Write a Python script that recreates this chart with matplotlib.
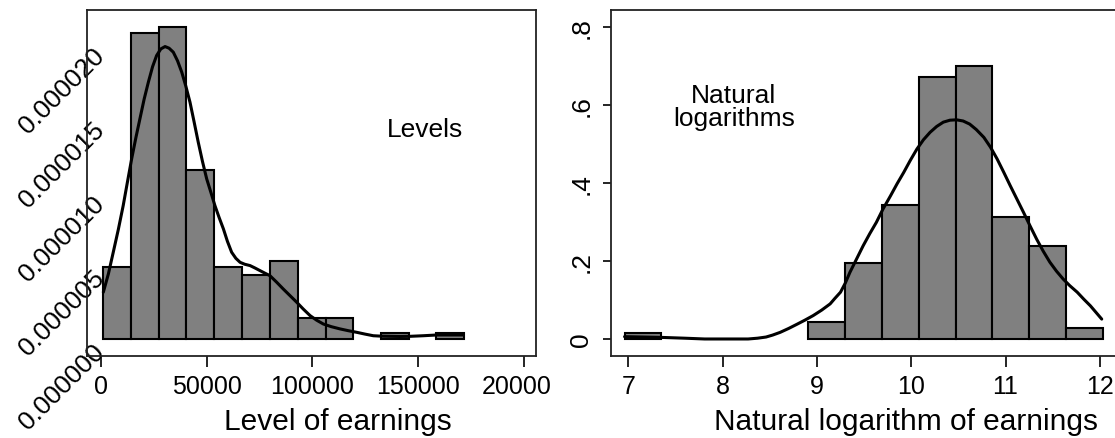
import matplotlib
matplotlib.use("Agg")
import matplotlib.pyplot as plt
import numpy as np
from matplotlib.transforms import Bbox, TransformedBbox

plt.rcParams['font.family'] = ['Liberation Sans', 'DejaVu Sans']

# histogram of earnings (levels): bin edges and densities
lev_edges = [1050, 14200, 27300, 40400, 53600, 66700, 79900, 93000,
             106200, 119300, 132400, 145600, 158700, 171900]
lev_dens = [4.85e-6, 2.067e-5, 2.111e-5, 1.145e-5, 4.85e-6, 4.35e-6,
            5.27e-6, 1.44e-6, 1.44e-6, 0.0, 4.1e-7, 0.0, 4.1e-7]

# kernel density of levels
lev_kx = [1100, 3500, 5800, 8200, 10500, 12500, 14500, 16500, 18400,
          20400, 22400, 24400, 26300, 28300, 30300, 32200, 34200, 36200,
          38200, 40100, 42100, 44000, 46000, 48000, 50000, 52000, 53900,
          55900, 57900, 59800, 61800, 63800, 65800, 68000, 70500, 72800,
          75200, 77500, 79900, 83000, 86200, 89400, 92600, 95700, 98900,
          102000, 105200, 109000, 113100, 117000, 121000, 124900, 128800,
          132700, 136700, 141400, 146200, 152500, 158800, 171400]
lev_ky = [3.16e-6, 4.4e-6, 5.86e-6, 7.4e-6, 9.01e-6, 1.06e-5, 1.217e-5,
          1.36e-5, 1.487e-5, 1.62e-5, 1.735e-5, 1.84e-5, 1.915e-5,
          1.96e-5, 1.976e-5, 1.965e-5, 1.938e-5, 1.88e-5, 1.803e-5,
          1.71e-5, 1.600e-5, 1.47e-5, 1.330e-5, 1.20e-5, 1.082e-5, 9.9e-6,
          9.01e-6, 8.2e-6, 7.44e-6, 6.6e-6, 5.86e-6, 5.45e-6, 5.18e-6,
          5.05e-6, 4.96e-6, 4.8e-6, 4.62e-6, 4.45e-6, 4.28e-6, 3.85e-6,
          3.38e-6, 2.93e-6, 2.48e-6, 2.02e-6, 1.58e-6, 1.27e-6, 1.01e-6,
          8.3e-7, 6.8e-7, 5.6e-7, 4.5e-7, 3.3e-7, 2.2e-7, 1.9e-7, 1.8e-7,
          1.7e-7, 1.8e-7, 2.2e-7, 2.7e-7, 2.7e-7]

# histogram of log earnings
log_edges = [6.96, 7.35, 7.74, 8.13, 8.52, 8.91, 9.30, 9.69, 10.08,
             10.47, 10.86, 11.25, 11.64, 12.03]
log_dens = [0.016, 0.0, 0.0, 0.0, 0.0, 0.044, 0.194, 0.343, 0.672,
            0.701, 0.314, 0.238, 0.029]

# kernel density of log earnings
log_kx = [6.96, 7.36, 7.60, 7.81, 8.05, 8.27, 8.37, 8.46, 8.53, 8.61,
          8.70, 8.79, 8.87, 8.96, 9.05, 9.14, 9.19, 9.25, 9.30, 9.35,
          9.42, 9.49, 9.56, 9.63, 9.70, 9.78, 9.85, 9.92, 9.99, 10.06,
          10.13, 10.20, 10.27, 10.34, 10.41, 10.48, 10.55, 10.62, 10.69,
          10.77, 10.84, 10.91, 10.98, 11.05, 11.12, 11.19, 11.26, 11.33,
          11.40, 11.47, 11.54, 11.61, 11.68, 11.76, 11.83, 11.90, 11.96,
          12.02]
log_ky = [0.006, 0.004, 0.002, 0.0, 0.0, 0.0, 0.002, 0.005, 0.010, 0.017,
          0.027, 0.038, 0.048, 0.060, 0.074, 0.090, 0.104, 0.120, 0.143,
          0.171, 0.205, 0.239, 0.270, 0.299, 0.333, 0.367, 0.398, 0.427,
          0.458, 0.487, 0.511, 0.530, 0.545, 0.556, 0.561, 0.562, 0.559,
          0.551, 0.537, 0.517, 0.492, 0.462, 0.428, 0.393, 0.359, 0.325,
          0.290, 0.256, 0.225, 0.197, 0.174, 0.154, 0.137, 0.120, 0.102,
          0.085, 0.068, 0.051]

lev_ticks = [0, 50000, 100000, 150000, 200000]
lev_yticks = [0, 0.000005, 0.00001, 0.000015, 0.00002]
log_ticks = [7, 8, 9, 10, 11, 12]
log_yticks = [0, 0.2, 0.4, 0.6, 0.8]
log_ylabels = ['0', '.2', '.4', '.6', '.8']

W, H = 1115, 439
fig = plt.figure(figsize=(W / 100, H / 100), dpi=100)
ax1 = fig.add_axes([86.7 / W, (H - 357.3) / H, 449.3 / W, 346.3 / H])
ax2 = fig.add_axes([610.7 / W, (H - 357.3) / H, 508 / W, 346.3 / H])


def draw_hist(ax, edges, dens, kx, ky):
    edges = np.array(edges)
    dens = np.array(dens)
    keep = dens > 0
    ax.bar(edges[:-1][keep], dens[keep], width=np.diff(edges)[keep],
           align='edge', color='#808080', edgecolor='black', linewidth=1.5,
           zorder=2)
    ax.plot(kx, ky, color='black', linewidth=2.2, zorder=3,
            solid_joinstyle='round', solid_capstyle='round')
    for s in ax.spines.values():
        s.set_linewidth(1.3)
        s.set_color('#222222')


draw_hist(ax1, lev_edges, lev_dens, lev_kx, lev_ky)
draw_hist(ax2, log_edges, log_dens, log_kx, log_ky)

# left panel
ax1.set_xlim(-6760, 205770)
ax1.set_ylim(-1.17e-6, 2.223e-5)
ax1.set_xticks(lev_ticks)
ax1.set_xticklabels([str(t) for t in lev_ticks])
ax1.tick_params(axis='x', length=8, width=1.2, pad=5, labelsize=18)
ax1.set_yticks(lev_yticks)
ax1.set_yticklabels(['%.6f' % t for t in lev_yticks], rotation=45,
                    rotation_mode='anchor', ha='right', va='top')
ax1.tick_params(axis='y', length=0, pad=-4, labelsize=19)
ax1.set_xlabel('Level of earnings', fontsize=21.5)
ax1.xaxis.set_label_coords(0.558, -0.145)
ax1.text(153264, 1.42e-5, 'Levels', fontsize=19, ha='center', va='center')

clip = TransformedBbox(Bbox([[0, 0], [550 / W, 1]]), fig.transFigure)
for lbl in ax1.get_xticklabels():
    lbl.set_clip_on(True)
    lbl.set_clip_box(clip)

# right panel
ax2.set_xlim(6.813, 12.2)
ax2.set_ylim(-0.0444, 0.8436)
ax2.set_xticks(log_ticks)
ax2.tick_params(axis='x', length=8, width=1.2, pad=5, labelsize=18)
ax2.set_yticks(log_yticks)
ax2.set_yticklabels(log_ylabels, rotation=90, va='center')
ax2.tick_params(axis='y', length=6, width=1.2, pad=6.5, labelsize=19)
ax2.set_xlabel('Natural logarithm of earnings', fontsize=21.5)
ax2.xaxis.set_label_coords(0.581, -0.145)
ax2.text(8.12, 0.597, 'Natural\nlogarithms', fontsize=19, ha='center',
         va='center', multialignment='center', linespacing=0.95)

fig.savefig('out.png', dpi=100, facecolor='white')
